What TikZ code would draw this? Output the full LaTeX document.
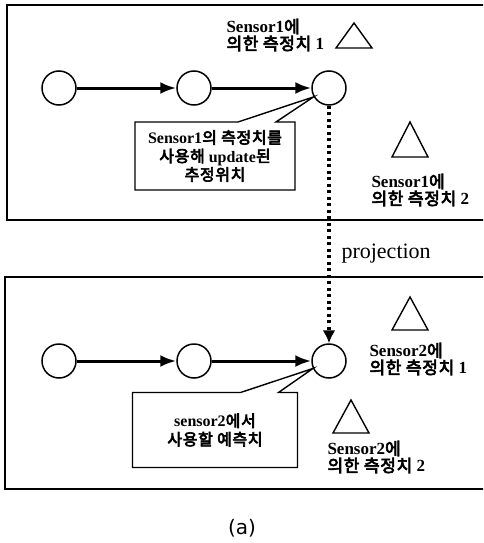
\documentclass[tikz,border=0pt]{standalone}
\usepackage{fontspec}
\setmainfont{Liberation Serif}
\setsansfont{DejaVu Sans}
\newfontfamily\kr{Noto Sans CJK KR}[LetterSpace=4,BoldFont={Noto Sans CJK KR},BoldFeatures={FakeBold=4}]
\usetikzlibrary{arrows.meta,shapes.callouts}
\newcommand{\ko}[1]{{\kr #1}}

\begin{document}
\begin{tikzpicture}[x=1pt,y=-1pt,>=Latex,
    every node/.style={font=\fontsize{17}{17}\selectfont\bfseries},
    state/.style={circle,draw,line width=1.5pt,minimum size=34pt,inner sep=0pt},
    frame/.style={line width=1.6pt},
    flow/.style={-{Latex[length=16pt,width=12pt]},line width=3pt},
    proj/.style={-{Latex[length=13pt,width=13pt]},line width=3.2pt,dash pattern=on 3pt off 3.5pt},
    meas/.style={line width=1.4pt,line join=miter},
    note/.style={rectangle callout,draw,line width=1.4pt,align=center,
      font=\fontsize{16}{18.5}\selectfont\bfseries,callout pointer width=38pt,inner sep=0pt},
    mlabel/.style={anchor=west,align=left}]
  \useasboundingbox (0,0) rectangle (483,543);
  \clip (0,0) rectangle (483,543);

  % two filter stages
  \draw[frame] (7,5) rectangle (492,220);
  \draw[frame] (5,277) rectangle (492,489);

  \node[state] (c11) at (59,88) {};
  \node[state] (c12) at (194,88) {};
  \node[state] (c13) at (329,88) {};
  \node[state] (c21) at (59,361) {};
  \node[state] (c22) at (194,361) {};
  \node[state] (c23) at (329,361) {};

  \draw[flow] (c11) -- (c12);
  \draw[flow] (c12) -- (c13);
  \draw[flow] (c21) -- (c22);
  \draw[flow] (c22) -- (c23);

  % measurements
  \foreach \x/\y/\h in {354/48/25, 410/157/35, 410/330/33, 351/433/33}
    \draw[meas] (\x-18,\y) -- ++(18,-\h) -- ++(18,\h) -- cycle;

  \node[mlabel] (m11) at (223,35) {Sensor1\ko{에}\\\ko{의한 측정치} 1};
  \node[mlabel] (m12) at (368,190) {Sensor1\ko{에}\\\ko{의한 측정치} 2};
  \node[mlabel] (m21) at (366,359) {Sensor2\ko{에}\\\ko{의한 측정치} 1};
  \node[mlabel] (m22) at (324,457) {Sensor2\ko{에}\\\ko{의한 측정치} 2};

  \node[note,minimum width=160pt,minimum height=68pt,callout absolute pointer={(c13.210)}]
    (n1) at (215,156) {Sensor1\ko{의 측정치를}\\\ko{사용해} update\ko{된}\\\ko{추정위치}};
  \node[note,minimum width=165pt,minimum height=75pt,callout absolute pointer={(c23.205)}]
    (n2) at (215,430) {sensor2\ko{에서}\\\ko{사용할 예측치}};

  \draw[proj] (c13) -- (c23);
  \node[font=\fontsize{22}{24}\selectfont,anchor=west] (pj) at (338,254) {projection};

  \node[font=\sffamily\fontsize{20}{22}\selectfont] (cap) at (242,528) {(a)};
\end{tikzpicture}
\end{document}
